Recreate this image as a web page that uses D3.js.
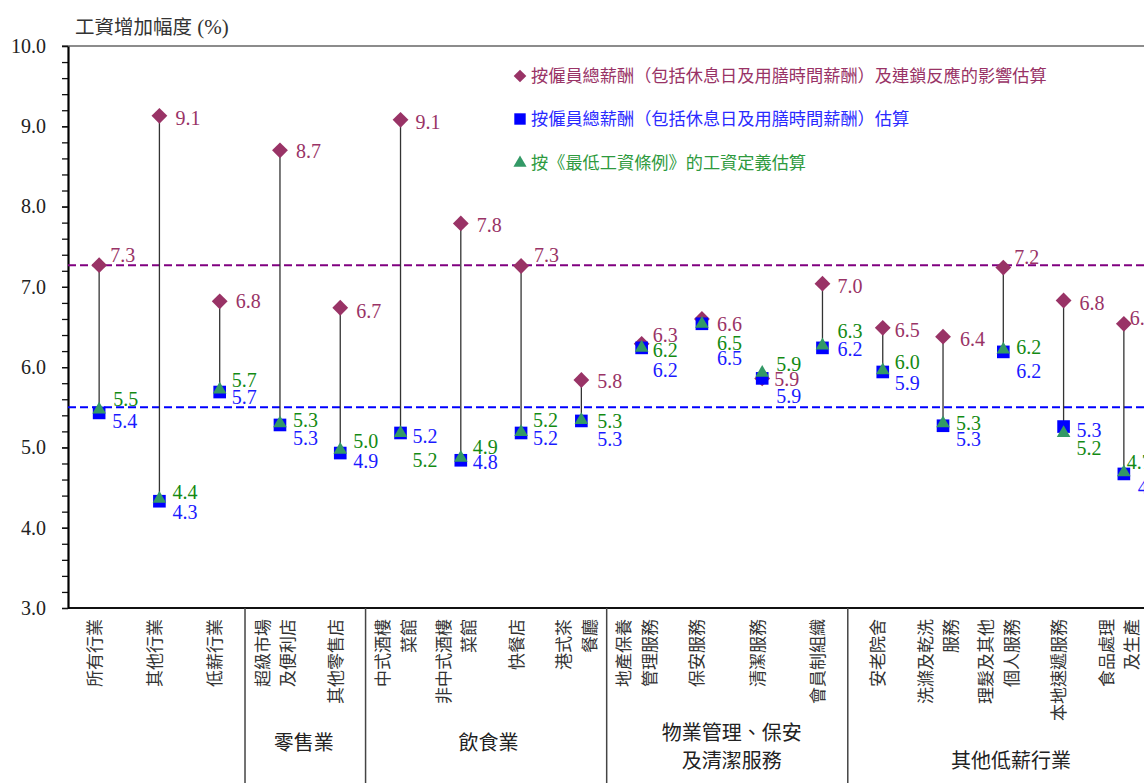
<!DOCTYPE html>
<html>
<head>
<meta charset="utf-8">
<script src="https://cdn.jsdelivr.net/npm/d3@7"></script>
<style>
  html, body { margin: 0; padding: 0; background: #fff; }
  svg { display: block; }
</style>
</head>
<body>
<script>
// ---------------- DATA ----------------
const categories = [
  "所有行業", "其他行業", "低薪行業",
  "超級市場\n及便利店", "其他零售店",
  "中式酒樓\n菜館", "非中式酒樓\n菜館", "快餐店", "港式茶\n餐廳",
  "地產保養\n管理服務", "保安服務", "清潔服務", "會員制組織",
  "安老院舍", "洗滌及乾洗\n服務", "理髮及其他\n個人服務", "本地速遞服務", "食品處理\n及生產"
];
// 按僱員總薪酬（包括休息日及用膳時間薪酬）及連鎖反應的影響估算
const diamondValues  = [7.27, 9.13, 6.82, 8.70, 6.74, 9.08, 7.79, 7.26, 5.84, 6.29, 6.60, 5.86, 7.04, 6.49, 6.38, 7.24, 6.83, 6.54];
// 按僱員總薪酬（包括休息日及用膳時間薪酬）估算
const squareValues   = [5.43, 4.33, 5.69, 5.28, 4.93, 5.18, 4.84, 5.18, 5.33, 6.24, 6.54, 5.86, 6.24, 5.94, 5.27, 6.19, 5.26, 4.67];
// 按《最低工資條例》的工資定義估算
const triangleValues = [5.47, 4.36, 5.72, 5.30, 4.97, 5.18, 4.87, 5.19, 5.34, 6.24, 6.54, 5.93, 6.27, 5.96, 5.30, 6.22, 5.18, 4.69];

const yTicks = [3, 4, 5, 6, 7, 8, 9, 10];
const refLineValues = [7.27, 5.5];
const groupNames = ["零售業", "飲食業", "物業管理、保安\n及清潔服務", "其他低薪行業"];
const groupStart = [3, 5, 9, 13];
const groupEnd   = [4, 8, 12, 17];
const legendLabels = [
  "按僱員總薪酬（包括休息日及用膳時間薪酬）及連鎖反應的影響估算",
  "按僱員總薪酬（包括休息日及用膳時間薪酬）估算",
  "按《最低工資條例》的工資定義估算"
];
const yTitle = "工資增加幅度";

// ---------------- LAYOUT (label offsets, px) ----------------
const diamondLabelOffset = [[11,-10],[16,2],[16,0],[16,1],[16,3],[15,2],[16,2],[13,-11],[16,1],[11,-9],[15,5],[12,1],[15,2],[12,2],[17,2],[11,-11],[16,2],[6,-6]];
const squareLabelOffset  = [[13,8],[13,11],[12,5],[13,13],[13,8],[12,3],[12,2],[12,5],[16,18],[11,22],[15,34],[14,18],[15,1],[12,11],[13,13],[13,19],[13,3],[14,13]];
const triangleLabelOffset= [[14,-11],[13,-7],[12,-10],[13,-3],[13,-9],[12,27],[12,-11],[12,-12],[16,1],[11,2],[15,19],[14,-9],[15,-14],[12,-8],[13,0],[13,-2],[13,15],[3,-10]];
const groupLabelY = [743, 743, 733, 761];
const groupLabelDx = [-4, 0, 2, 10];

// ---------------- CHART ----------------
const W = 1144, H = 783;
const serif = "'Liberation Serif','Times New Roman',serif";
const cjk = "'Noto Sans CJK TC','Noto Sans CJK SC',sans-serif";
const colDiamond = "#993366", colSquare = "#0000ff", colTri = "#339966";
const colDiamondText = "#993366", colSquareText = "#1a1aff", colTriText = "#138a13";

const svg = d3.select("body").append("svg").attr("width", W).attr("height", H);

const x = d3.scaleBand().domain(categories).range([69, 1154]);
const cx = c => x(c) + x.bandwidth() / 2;
const y = d3.scaleLinear().domain([3, 10]).range([608, 46]);

// top border
svg.append("line").attr("x1", 62).attr("x2", W).attr("y1", y(10)).attr("y2", y(10))
  .attr("stroke", "#666").attr("stroke-width", 1.5);
// bottom axis line
svg.append("line").attr("x1", 68).attr("x2", W).attr("y1", y(3)).attr("y2", y(3))
  .attr("stroke", "#111").attr("stroke-width", 2);

// minor ticks
const minorAxis = d3.axisLeft(y).tickValues(d3.range(30, 101, 2).map(v => v / 10))
  .tickFormat("").tickSize(6).tickSizeOuter(0);
const gMinor = svg.append("g").attr("transform", "translate(68,0)").call(minorAxis);
gMinor.select(".domain").remove();
gMinor.selectAll("line").attr("stroke", "#111").attr("stroke-width", 1.3);

// major axis
const yAxis = d3.axisLeft(y).tickValues(yTicks).tickFormat(d3.format(".1f"))
  .tickSize(6).tickSizeOuter(0).tickPadding(16);
const gY = svg.append("g").attr("transform", "translate(68,0)").call(yAxis);
gY.select(".domain").attr("stroke", "#000").attr("stroke-width", 2.2);
gY.selectAll("line").attr("stroke", "#111").attr("stroke-width", 1.3);
gY.selectAll("text").attr("font-family", serif).attr("font-size", 20).attr("fill", "#222");

// y title
const title = svg.append("text").attr("x", 75).attr("y", 34).attr("fill", "#333")
  .attr("font-family", cjk).attr("font-size", 19.5);
title.append("tspan").text(yTitle);
title.append("tspan").attr("font-family", serif).attr("font-size", 21).text(" (%)");

// reference lines
const refColors = ["#800080", "#0000ff"];
svg.selectAll(".ref").data(refLineValues).join("line").attr("class", "ref")
  .attr("x1", 68).attr("x2", W)
  .attr("y1", d => y(d)).attr("y2", d => y(d))
  .attr("stroke", (d, i) => refColors[i]).attr("stroke-width", 2)
  .attr("stroke-dasharray", "8,4");

// stems
svg.selectAll(".stem").data(categories).join("line").attr("class", "stem")
  .attr("x1", d => cx(d)).attr("x2", d => cx(d))
  .attr("y1", (d, i) => y(diamondValues[i]))
  .attr("y2", (d, i) => y(Math.min(squareValues[i], triangleValues[i])))
  .attr("stroke", "#333").attr("stroke-width", 1.3);

// markers
const diamondPath = d3.symbol(d3.symbolSquare, 125)();
const squarePath = d3.symbol(d3.symbolSquare, 160)();
const triPath = d3.symbol(d3.symbolTriangle, 80)();

svg.selectAll(".dia").data(categories).join("path").attr("class", "dia")
  .attr("d", diamondPath)
  .attr("transform", (d, i) => `translate(${cx(d)},${y(diamondValues[i])}) rotate(45)`)
  .attr("fill", colDiamond);
svg.selectAll(".sq").data(categories).join("path").attr("class", "sq")
  .attr("d", squarePath)
  .attr("transform", (d, i) => `translate(${cx(d)},${y(squareValues[i])})`)
  .attr("fill", colSquare);
svg.selectAll(".tri").data(categories).join("path").attr("class", "tri")
  .attr("d", triPath)
  .attr("transform", (d, i) => `translate(${cx(d)},${y(triangleValues[i])})`)
  .attr("fill", colTri);

// value labels
function drawLabels(cls, values, offsets, color) {
  svg.selectAll("." + cls).data(categories).join("text").attr("class", cls)
    .attr("x", (d, i) => cx(d) + offsets[i][0])
    .attr("y", (d, i) => y(values[i]) + offsets[i][1] + 7)
    .attr("font-family", serif).attr("font-size", 20).attr("fill", color)
    .text((d, i) => values[i].toFixed(1));
}
drawLabels("ldia", diamondValues, diamondLabelOffset, colDiamondText);
drawLabels("lsq", squareValues, squareLabelOffset, colSquareText);
drawLabels("ltri", triangleValues, triangleLabelOffset, colTriText);

// legend
const legendY = [76, 119, 163];
const legendPaths = [diamondPath, d3.symbol(d3.symbolSquare, 130)(), d3.symbol(d3.symbolTriangle, 75)()];
const legendFill = [colDiamond, colSquare, colTri];
const legendText = ["#993366", "#2a2aff", "#2e9a3e"];
legendLabels.forEach((lab, i) => {
  svg.append("path").attr("d", legendPaths[i])
    .attr("transform", `translate(520,${legendY[i]})` + (i === 0 ? " rotate(45) scale(0.8)" : ""))
    .attr("fill", legendFill[i]);
  svg.append("text").attr("x", 531).attr("y", legendY[i] + 6)
    .attr("font-family", cjk).attr("font-size", 17.2).attr("fill", legendText[i])
    .text(lab);
});

// x category labels (rotated)
categories.forEach(c => {
  const lines = c.split("\n");
  const n = lines.length;
  lines.forEach((ln, j) => {
    const bx = cx(c) + 1.5 + (j - (n - 1) / 2) * 25.5;
    svg.append("text")
      .attr("transform", `translate(${bx},619) rotate(-90)`)
      .attr("text-anchor", "end")
      .attr("font-family", cjk).attr("font-size", 17).attr("fill", "#333")
      .text(ln);
  });
});

// group separators and labels
groupStart.forEach((s, g) => {
  const sx = cx(categories[s]) - x.step() * 0.58;
  svg.append("line").attr("x1", sx).attr("x2", sx).attr("y1", y(3)).attr("y2", H)
    .attr("stroke", "#444").attr("stroke-width", 1.5);
  const ex = cx(categories[groupEnd[g]]) + x.step() * 0.5;
  const mid = (sx + ex) / 2 + groupLabelDx[g];
  groupNames[g].split("\n").forEach((ln, j) => {
    svg.append("text").attr("x", mid).attr("y", groupLabelY[g] + j * 28 + 7)
      .attr("text-anchor", "middle")
      .attr("font-family", cjk).attr("font-size", 20).attr("fill", "#222")
      .text(ln);
  });
});
</script>
</body>
</html>
